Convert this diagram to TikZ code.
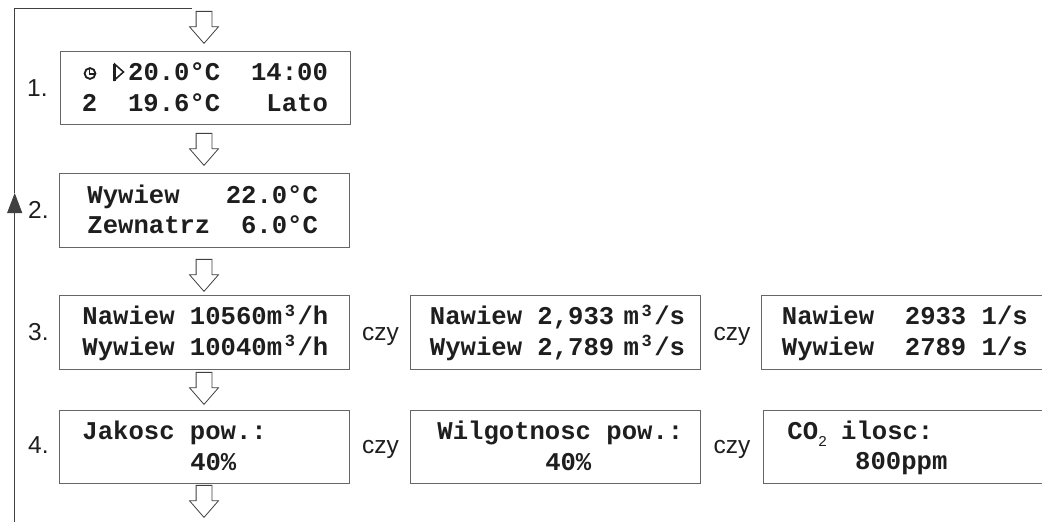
\documentclass[tikz,border=0pt]{standalone}
\usepackage{fontspec}
\setmainfont{Liberation Sans}
\newfontfamily\lcdfont{Liberation Mono}[BoldFont=* Bold]
\usetikzlibrary{shapes.arrows,arrows.meta}
\definecolor{framegray}{HTML}{666666}
\definecolor{linegray}{HTML}{404040}
\definecolor{inkgray}{HTML}{1E1E1E}
\newlength{\lcdcell}
\setlength{\lcdcell}{15.4pt}
\newcommand{\lcdstrut}{\rule[-4pt]{0pt}{25pt}}
\newcommand{\lcdgap}[1]{\hspace*{#1\lcdcell}}
\newcommand{\lcdcube}{\makebox[\lcdcell][c]{\fontsize{17}{17}\selectfont\raisebox{8.5pt}{3}}}
\newcommand{\lcdrows}[3]{\hspace*{#1pt}\lcdstrut #2\\\hspace*{#1pt}\lcdstrut #3}
\tikzset{
    lcdbox/.style={draw=framegray, line width=0.9pt, anchor=north west, inner sep=0pt,
        text width=#1, minimum height=73.5pt, align=left, text=inkgray,
        font=\lcdfont\bfseries\fontsize{25.6}{30.5}\selectfont},
    lcdbox/.default=290pt,
    steplabel/.style={anchor=base west, text=inkgray, inner sep=0pt, font=\fontsize{24.5}{28}\selectfont},
    flowarrow/.style={draw=linegray, fill=white, line width=0.8pt, single arrow, shape border rotate=0,
        rotate=-90, anchor=tip, inner xsep=0pt, inner ysep=7.5pt, minimum height=32pt,
        single arrow head extend=6.5pt, single arrow tip angle=82},
    backline/.style={draw=linegray, line width=0.9pt},
    lcdicon/.style={draw=inkgray, line width=1.8pt}
}
\begin{document}
\begin{tikzpicture}[x=1pt,y=-1pt]
    \useasboundingbox (0,0) rectangle (1042,522);
    % Ekrany, pierwsza kolumna
    \node[lcdbox] (screena) at (59.5,50.5) {\lcdrows{22}{\lcdgap{3}20.0°C\lcdgap{2}14:00}{2\lcdgap{2}19.6°C\lcdgap{3}Lato}};
    \node[lcdbox] (screenb) at (59,173) {\lcdrows{28}{Wywiew\lcdgap{3}22.0°C}{Zewnatrz\lcdgap{2}6.0°C}};
    \node[lcdbox] (screenc) at (59,295) {\lcdrows{23}{Nawiew\lcdgap{1}10560m\lcdcube/h}{Wywiew\lcdgap{1}10040m\lcdcube/h}};
    \node[lcdbox] (screend) at (59,409.5) {\lcdrows{23}{Jakosc\lcdgap{1}pow.:}{\lcdgap{7}40\%}};
    % Warianty
    \node[lcdbox] (screenc2) at (409.5,295) {\lcdrows{20}{Nawiew\lcdgap{1}2,933\lcdgap{0.6}m\lcdcube/s}{Wywiew\lcdgap{1}2,789\lcdgap{0.6}m\lcdcube/s}};
    \node[lcdbox] (screenc3) at (760.5,295) {\lcdrows{21}{Nawiew\lcdgap{2}2933\lcdgap{1}1/s}{Wywiew\lcdgap{2}2789\lcdgap{1}1/s}};
    \node[lcdbox] (screend2) at (410,409.5) {\lcdrows{27}{Wilgotnosc\lcdgap{1}pow.:}{\lcdgap{7}40\%}};
    \node[lcdbox] (screend3) at (763,409.5) {\lcdrows{24}{CO\makebox[23pt][l]{\fontsize{15}{15}\selectfont\mdseries\raisebox{-7.5pt}{2}}ilosc:}{\lcdgap{4.4}800ppm}};
    % Ikony na pierwszym ekranie
    \draw[lcdicon] (90,73.5) circle (5.4);
    \draw[lcdicon, line width=1.3pt] (89.5,69) -- (89.5,74) -- (95,74);
    \draw[lcdicon, line width=1.5pt, fill=white] (114.5,64) -- (114.5,80) -- (123.5,72) -- cycle;
    \draw[lcdicon, line width=2.4pt] (114.5,63.5) -- (114.5,80.5);
    % Numery
    \node[steplabel] (numa) at (27,96) {1.};
    \node[steplabel] (numb) at (28,218) {2.};
    \node[steplabel] (numc) at (28,340) {3.};
    \node[steplabel] (numd) at (28,453) {4.};
    % czy
    \foreach \x/\y/\n in {362/340/a,713.5/340/b,362/453/c,713.5/453/d}
        \node[steplabel] (czy\n) at (\x,\y) {czy};
    % Strzalki
    \foreach \y/\n in {44/a,166/b,292/c,405/d,518/e}
        \node[flowarrow] (arrow\n) at (204,\y) {};
    % Powrot
    \coordinate (backstart) at (14.7,522);
    \coordinate (backmid) at (14.7,193);
    \coordinate (backend) at (191.5,8.7);
    \draw[backline,-{Triangle[length=20pt,width=15pt]}] (backstart) -- (backmid);
    \draw[backline] (backmid) |- (backend);
\end{tikzpicture}
\end{document}
